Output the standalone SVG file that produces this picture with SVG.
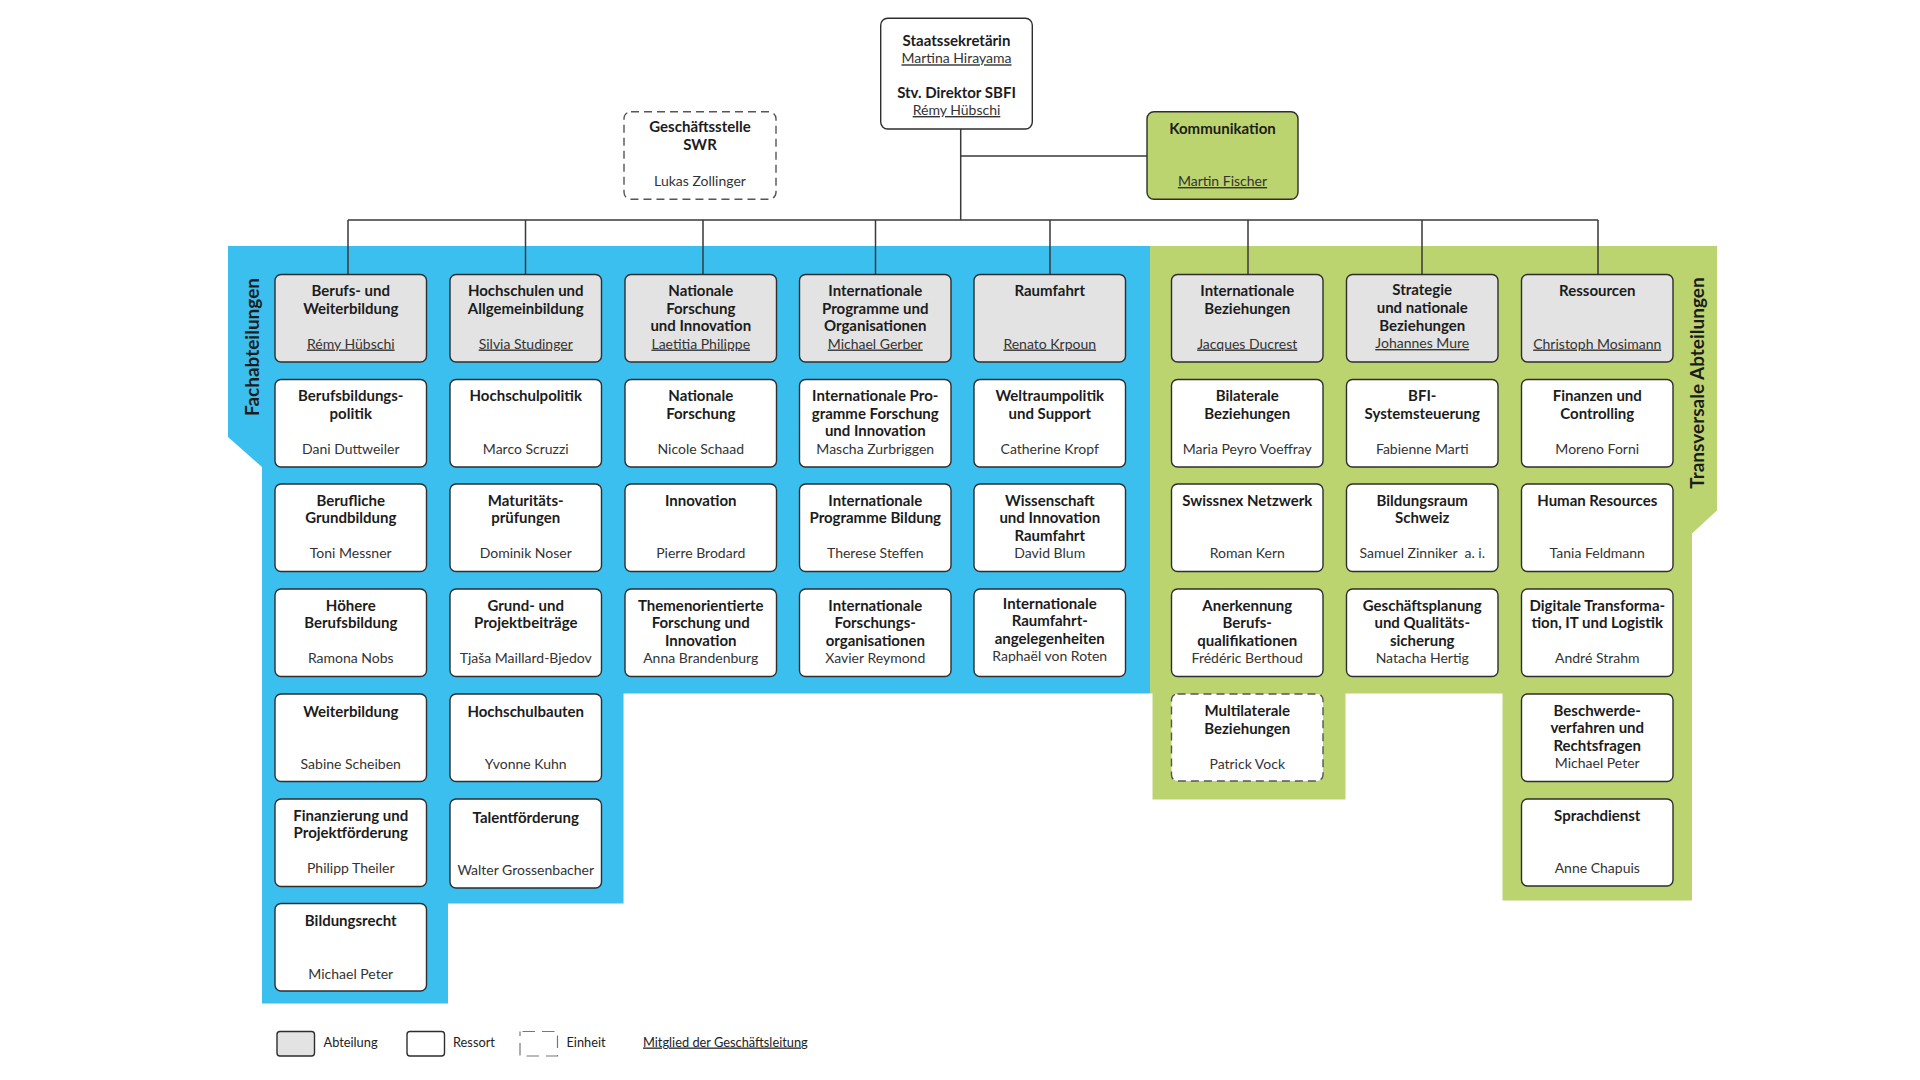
<svg xmlns="http://www.w3.org/2000/svg" width="1920" height="1080" viewBox="0 0 1920 1080">
<style>
.box{stroke:#2e2e2e;stroke-width:1.4}
.dept{fill:#e3e3e3}
.res{fill:#ffffff}
.unit{fill:#ffffff;stroke:#555;stroke-width:1.4;stroke-dasharray:8 5}
.komm{fill:#bcd46f}
text{font-family:Lato,"Open Sans","Liberation Sans",sans-serif}
.t{font-weight:700;font-size:15px;fill:#1c1c1c;text-anchor:middle}
.n{font-weight:400;font-size:14px;fill:#333;text-anchor:middle}
.u{text-decoration:underline}
.lbl{font-weight:700;font-size:19px;fill:#1c1c1c;text-anchor:middle}
.lg{font-weight:400;font-size:12.8px;fill:#222}
</style>
<rect width="1920" height="1080" fill="#ffffff"/>
<g id="regions">
<polygon points="228,246 1150,246 1150,693.5 623.5,693.5 623.5,903.5 448,903.5 448,1003.5 262,1003.5 262,467 228,437" fill="#3bbfef"/>
<polygon points="1150,246 1717,246 1717,510.5 1692,533.5 1692,900.5 1502.5,900.5 1502.5,693.5 1345.5,693.5 1345.5,799.5 1152.5,799.5 1152.5,693.5 1150,693.5" fill="#bcd46f"/>
<text class="lbl" transform="translate(258.5,347) rotate(-90)">Fachabteilungen</text>
<text class="lbl" transform="translate(1704,383) rotate(-90)">Transversale Abteilungen</text>
</g>
<g id="connectors" stroke="#3a3a3a" stroke-width="1.5" fill="none">
<path d="M960.7 129 V220 M960.7 156 H1147 M348 220 H1598 M348 220 V274.5 M525.5 220 V274.5 M703 220 V274.5 M875.5 220 V274.5 M1050 220 V274.5 M1248 220 V274.5 M1422 220 V274.5 M1598 220 V274.5"/>
</g>
<g id="n-staatssekretaerin">
<rect class="box res" x="880.7" y="18.3" width="151.6" height="110.7" rx="7"/>
<text class="t" x="956.5" y="46">Staatssekretärin</text>
<text class="n u" x="956.5" y="63.3">Martina Hirayama</text>
<text class="t" x="956.5" y="98.3">Stv. Direktor SBFI</text>
<text class="n u" x="956.5" y="115">Rémy Hübschi</text>
</g>
<g id="n-swr">
<rect class="unit" x="624" y="111.7" width="152" height="87.6" rx="7"/>
<text class="t" x="700" y="131.7"><tspan x="700">Geschäftsstelle</tspan><tspan x="700" y="150">SWR</tspan></text>
<text class="n" x="700" y="185.7">Lukas Zollinger</text>
</g>
<g id="n-kommunikation">
<rect class="box komm" x="1147" y="111.7" width="151" height="87.6" rx="7"/>
<text class="t" x="1222.5" y="134">Kommunikation</text>
<text class="n u" x="1222.5" y="186">Martin Fischer</text>
</g>

<g id="n-c1r1"><rect class="box dept" x="275" y="274.5" width="151.5" height="87.5" rx="6"/><text class="t" y="296"><tspan x="350.75">Berufs- und</tspan><tspan x="350.75" y="313.5">Weiterbildung</tspan></text><text class="n u" x="350.75" y="348.5">Rémy Hübschi</text></g>
<g id="n-c1r2"><rect class="box res" x="275" y="379.5" width="151.5" height="87.5" rx="6"/><text class="t" y="401"><tspan x="350.75">Berufsbildungs-</tspan><tspan x="350.75" y="418.5">politik</tspan></text><text class="n" x="350.75" y="453.5">Dani Duttweiler</text></g>
<g id="n-c1r3"><rect class="box res" x="275" y="484" width="151.5" height="87.5" rx="6"/><text class="t" y="505.5"><tspan x="350.75">Berufliche</tspan><tspan x="350.75" y="523">Grundbildung</tspan></text><text class="n" x="350.75" y="558">Toni Messner</text></g>
<g id="n-c1r4"><rect class="box res" x="275" y="589" width="151.5" height="87.5" rx="6"/><text class="t" y="610.5"><tspan x="350.75">Höhere</tspan><tspan x="350.75" y="628">Berufsbildung</tspan></text><text class="n" x="350.75" y="663">Ramona Nobs</text></g>
<g id="n-c1r5"><rect class="box res" x="275" y="694" width="151.5" height="87.5" rx="6"/><text class="t" x="350.75" y="716.5">Weiterbildung</text><text class="n" x="350.75" y="769">Sabine Scheiben</text></g>
<g id="n-c1r6"><rect class="box res" x="275" y="799" width="151.5" height="87.5" rx="6"/><text class="t" y="820.5"><tspan x="350.75">Finanzierung und</tspan><tspan x="350.75" y="838">Projektförderung</tspan></text><text class="n" x="350.75" y="873">Philipp Theiler</text></g>
<g id="n-c1r7"><rect class="box res" x="275" y="903.5" width="151.5" height="87.5" rx="6"/><text class="t" x="350.75" y="926">Bildungsrecht</text><text class="n" x="350.75" y="978.5">Michael Peter</text></g>

<g id="n-c2r1"><rect class="box dept" x="450" y="274.5" width="151.5" height="87.5" rx="6"/><text class="t" y="296"><tspan x="525.75">Hochschulen und</tspan><tspan x="525.75" y="313.5">Allgemeinbildung</tspan></text><text class="n u" x="525.75" y="348.5">Silvia Studinger</text></g>
<g id="n-c2r2"><rect class="box res" x="450" y="379.5" width="151.5" height="87.5" rx="6"/><text class="t" x="525.75" y="401">Hochschulpolitik</text><text class="n" x="525.75" y="453.5">Marco Scruzzi</text></g>
<g id="n-c2r3"><rect class="box res" x="450" y="484" width="151.5" height="87.5" rx="6"/><text class="t" y="505.5"><tspan x="525.75">Maturitäts-</tspan><tspan x="525.75" y="523">prüfungen</tspan></text><text class="n" x="525.75" y="558">Dominik Noser</text></g>
<g id="n-c2r4"><rect class="box res" x="450" y="589" width="151.5" height="87.5" rx="6"/><text class="t" y="610.5"><tspan x="525.75">Grund- und</tspan><tspan x="525.75" y="628">Projektbeiträge</tspan></text><text class="n" x="525.75" y="663">Tjaša Maillard-Bjedov</text></g>
<g id="n-c2r5"><rect class="box res" x="450" y="694" width="151.5" height="87.5" rx="6"/><text class="t" x="525.75" y="716.5">Hochschulbauten</text><text class="n" x="525.75" y="769">Yvonne Kuhn</text></g>
<g id="n-c2r6"><rect class="box res" x="450" y="799" width="151.5" height="89" rx="6"/><text class="t" x="525.75" y="823">Talentförderung</text><text class="n" x="525.75" y="875">Walter Grossenbacher</text></g>

<g id="n-c3r1"><rect class="box dept" x="625" y="274.5" width="151.5" height="87.5" rx="6"/><text class="t" y="296"><tspan x="700.75">Nationale</tspan><tspan x="700.75" y="313.5">Forschung</tspan><tspan x="700.75" y="331">und Innovation</tspan></text><text class="n u" x="700.75" y="348.5">Laetitia Philippe</text></g>
<g id="n-c3r2"><rect class="box res" x="625" y="379.5" width="151.5" height="87.5" rx="6"/><text class="t" y="401"><tspan x="700.75">Nationale</tspan><tspan x="700.75" y="418.5">Forschung</tspan></text><text class="n" x="700.75" y="453.5">Nicole Schaad</text></g>
<g id="n-c3r3"><rect class="box res" x="625" y="484" width="151.5" height="87.5" rx="6"/><text class="t" x="700.75" y="505.5">Innovation</text><text class="n" x="700.75" y="558">Pierre Brodard</text></g>
<g id="n-c3r4"><rect class="box res" x="625" y="589" width="151.5" height="87.5" rx="6"/><text class="t" y="610.5"><tspan x="700.75">Themenorientierte</tspan><tspan x="700.75" y="628">Forschung und</tspan><tspan x="700.75" y="645.5">Innovation</tspan></text><text class="n" x="700.75" y="663">Anna Brandenburg</text></g>

<g id="n-c4r1"><rect class="box dept" x="799.5" y="274.5" width="151.5" height="87.5" rx="6"/><text class="t" y="296"><tspan x="875.25">Internationale</tspan><tspan x="875.25" y="313.5">Programme und</tspan><tspan x="875.25" y="331">Organisationen</tspan></text><text class="n u" x="875.25" y="348.5">Michael Gerber</text></g>
<g id="n-c4r2"><rect class="box res" x="799.5" y="379.5" width="151.5" height="87.5" rx="6"/><text class="t" y="401"><tspan x="875.25">Internationale Pro-</tspan><tspan x="875.25" y="418.5">gramme Forschung</tspan><tspan x="875.25" y="436">und Innovation</tspan></text><text class="n" x="875.25" y="453.5">Mascha Zurbriggen</text></g>
<g id="n-c4r3"><rect class="box res" x="799.5" y="484" width="151.5" height="87.5" rx="6"/><text class="t" y="505.5"><tspan x="875.25">Internationale</tspan><tspan x="875.25" y="523">Programme Bildung</tspan></text><text class="n" x="875.25" y="558">Therese Steffen</text></g>
<g id="n-c4r4"><rect class="box res" x="799.5" y="589" width="151.5" height="87.5" rx="6"/><text class="t" y="610.5"><tspan x="875.25">Internationale</tspan><tspan x="875.25" y="628">Forschungs-</tspan><tspan x="875.25" y="645.5">organisationen</tspan></text><text class="n" x="875.25" y="663">Xavier Reymond</text></g>

<g id="n-c5r1"><rect class="box dept" x="974" y="274.5" width="151.5" height="87.5" rx="6"/><text class="t" x="1049.75" y="296">Raumfahrt</text><text class="n u" x="1049.75" y="348.5">Renato Krpoun</text></g>
<g id="n-c5r2"><rect class="box res" x="974" y="379.5" width="151.5" height="87.5" rx="6"/><text class="t" y="401"><tspan x="1049.75">Weltraumpolitik</tspan><tspan x="1049.75" y="418.5">und Support</tspan></text><text class="n" x="1049.75" y="453.5">Catherine Kropf</text></g>
<g id="n-c5r3"><rect class="box res" x="974" y="484" width="151.5" height="87.5" rx="6"/><text class="t" y="505.5"><tspan x="1049.75">Wissenschaft</tspan><tspan x="1049.75" y="523">und Innovation</tspan><tspan x="1049.75" y="540.5">Raumfahrt</tspan></text><text class="n" x="1049.75" y="558">David Blum</text></g>
<g id="n-c5r4"><rect class="box res" x="974" y="589" width="151.5" height="87.5" rx="6"/><text class="t" y="608.5"><tspan x="1049.75">Internationale</tspan><tspan x="1049.75" y="626">Raumfahrt-</tspan><tspan x="1049.75" y="643.5">angelegenheiten</tspan></text><text class="n" x="1049.75" y="661">Raphaël von Roten</text></g>

<g id="n-c6r1"><rect class="box dept" x="1171.5" y="274.5" width="151.5" height="87.5" rx="6"/><text class="t" y="296"><tspan x="1247.25">Internationale</tspan><tspan x="1247.25" y="313.5">Beziehungen</tspan></text><text class="n u" x="1247.25" y="348.5">Jacques Ducrest</text></g>
<g id="n-c6r2"><rect class="box res" x="1171.5" y="379.5" width="151.5" height="87.5" rx="6"/><text class="t" y="401"><tspan x="1247.25">Bilaterale</tspan><tspan x="1247.25" y="418.5">Beziehungen</tspan></text><text class="n" x="1247.25" y="453.5">Maria Peyro Voeffray</text></g>
<g id="n-c6r3"><rect class="box res" x="1171.5" y="484" width="151.5" height="87.5" rx="6"/><text class="t" x="1247.25" y="505.5">Swissnex Netzwerk</text><text class="n" x="1247.25" y="558">Roman Kern</text></g>
<g id="n-c6r4"><rect class="box res" x="1171.5" y="589" width="151.5" height="87.5" rx="6"/><text class="t" y="610.5"><tspan x="1247.25">Anerkennung</tspan><tspan x="1247.25" y="628">Berufs-</tspan><tspan x="1247.25" y="645.5">qualifikationen</tspan></text><text class="n" x="1247.25" y="663">Frédéric Berthoud</text></g>
<g id="n-c6r5"><rect class="unit" x="1171.5" y="694" width="151.5" height="87" rx="6"/><text class="t" y="716"><tspan x="1247.25">Multilaterale</tspan><tspan x="1247.25" y="733.5">Beziehungen</tspan></text><text class="n" x="1247.25" y="769">Patrick Vock</text></g>

<g id="n-c7r1"><rect class="box dept" x="1346.5" y="274.5" width="151.5" height="87.5" rx="6"/><text class="t" y="295"><tspan x="1422.25">Strategie</tspan><tspan x="1422.25" y="312.7">und nationale</tspan><tspan x="1422.25" y="330.5">Beziehungen</tspan></text><text class="n u" x="1422.25" y="348">Johannes Mure</text></g>
<g id="n-c7r2"><rect class="box res" x="1346.5" y="379.5" width="151.5" height="87.5" rx="6"/><text class="t" y="401"><tspan x="1422.25">BFI-</tspan><tspan x="1422.25" y="418.5">Systemsteuerung</tspan></text><text class="n" x="1422.25" y="453.5">Fabienne Marti</text></g>
<g id="n-c7r3"><rect class="box res" x="1346.5" y="484" width="151.5" height="87.5" rx="6"/><text class="t" y="505.5"><tspan x="1422.25">Bildungsraum</tspan><tspan x="1422.25" y="523">Schweiz</tspan></text><text class="n" x="1422.25" y="558">Samuel Zinniker&#160; a. i.</text></g>
<g id="n-c7r4"><rect class="box res" x="1346.5" y="589" width="151.5" height="87.5" rx="6"/><text class="t" y="610.5"><tspan x="1422.25">Geschäftsplanung</tspan><tspan x="1422.25" y="628">und Qualitäts-</tspan><tspan x="1422.25" y="645.5">sicherung</tspan></text><text class="n" x="1422.25" y="663">Natacha Hertig</text></g>

<g id="n-c8r1"><rect class="box dept" x="1521.5" y="274.5" width="151.5" height="87.5" rx="6"/><text class="t" x="1597.25" y="295.5">Ressourcen</text><text class="n u" x="1597.25" y="348.5">Christoph Mosimann</text></g>
<g id="n-c8r2"><rect class="box res" x="1521.5" y="379.5" width="151.5" height="87.5" rx="6"/><text class="t" y="401"><tspan x="1597.25">Finanzen und</tspan><tspan x="1597.25" y="418.5">Controlling</tspan></text><text class="n" x="1597.25" y="453.5">Moreno Forni</text></g>
<g id="n-c8r3"><rect class="box res" x="1521.5" y="484" width="151.5" height="87.5" rx="6"/><text class="t" x="1597.25" y="505.5">Human Resources</text><text class="n" x="1597.25" y="558">Tania Feldmann</text></g>
<g id="n-c8r4"><rect class="box res" x="1521.5" y="589" width="151.5" height="87.5" rx="6"/><text class="t" y="610.5"><tspan x="1597.25">Digitale Transforma-</tspan><tspan x="1597.25" y="628">tion, IT und Logistik</tspan></text><text class="n" x="1597.25" y="663">André Strahm</text></g>
<g id="n-c8r5"><rect class="box res" x="1521.5" y="694" width="151.5" height="87.5" rx="6"/><text class="t" y="715.5"><tspan x="1597.25">Beschwerde-</tspan><tspan x="1597.25" y="733">verfahren und</tspan><tspan x="1597.25" y="750.5">Rechtsfragen</tspan></text><text class="n" x="1597.25" y="768">Michael Peter</text></g>
<g id="n-c8r6"><rect class="box res" x="1521.5" y="799" width="151.5" height="87" rx="6"/><text class="t" x="1597.25" y="821">Sprachdienst</text><text class="n" x="1597.25" y="873">Anne Chapuis</text></g>

<g id="legend">
<rect class="box dept" x="277" y="1031.5" width="37.5" height="24.5" rx="3"/>
<text class="lg" x="323.5" y="1046.5">Abteilung</text>
<rect class="box res" x="407" y="1031.5" width="37.5" height="24.5" rx="3"/>
<text class="lg" x="453" y="1046.5">Ressort</text>
<rect x="520" y="1031.5" width="37.5" height="24.5" fill="none" stroke="#777" stroke-width="1.2" stroke-dasharray="12.5 7" stroke-dashoffset="-2.5"/>
<text class="lg" x="566.5" y="1046.5">Einheit</text>
<text class="lg u" x="643" y="1046.5">Mitglied der Geschäftsleitung</text>
</g>
</svg>
